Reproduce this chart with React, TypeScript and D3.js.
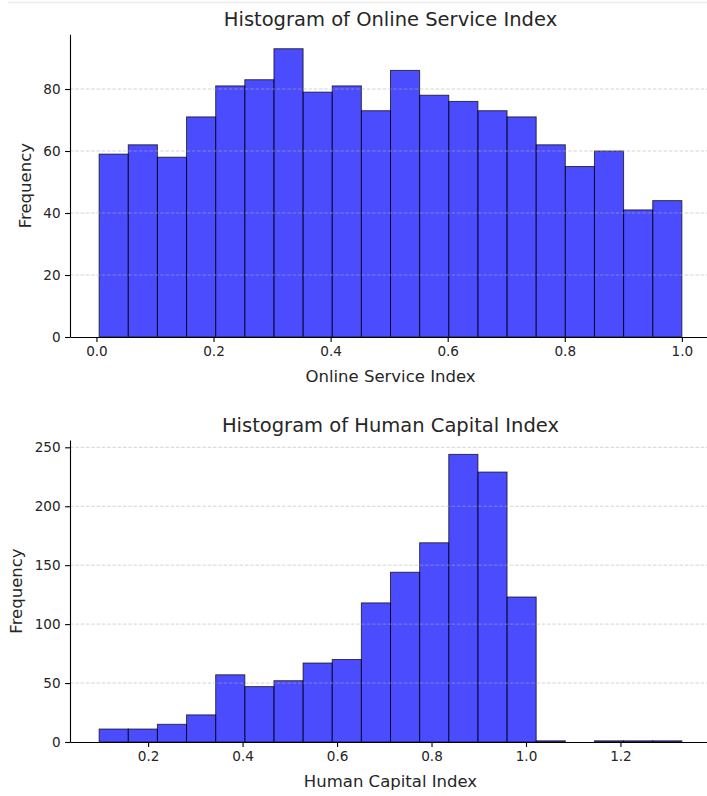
import React, { useRef, useEffect } from 'react';
import * as d3 from 'd3';

// Online Service Index: 20 bins between these edges
const onlineRange = [0.0046, 1.0];
const onlineCounts = [59, 62, 58, 71, 81, 83, 93, 79, 81, 73, 86, 78, 76, 73, 71, 62, 55, 60, 41, 44];
const onlineXTicks = [0.0, 0.2, 0.4, 0.6, 0.8, 1.0];
const onlineYTicks = [0, 20, 40, 60, 80];

// Human Capital Index: 20 bins between these edges
const humanRange = [0.0963, 1.33];
const humanCounts = [11, 11, 15, 23, 57, 47, 52, 67, 70, 118, 144, 169, 244, 229, 123, 1, 0, 1, 1, 1];
const humanXTicks = [0.2, 0.4, 0.6, 0.8, 1.0, 1.2];
const humanYTicks = [0, 50, 100, 150, 200, 250];

const FONT = 'DejaVu Sans, sans-serif';

type Panel = {
  title: string;
  xLabel: string;
  range: number[];
  counts: number[];
  xTicks: number[];
  yTicks: number[];
  top: number;
  bottom: number;
  yLabelX: number;
};

const panels: Panel[] = [
  {
    title: 'Histogram of Online Service Index',
    xLabel: 'Online Service Index',
    range: onlineRange,
    counts: onlineCounts,
    xTicks: onlineXTicks,
    yTicks: onlineYTicks,
    top: 34.3,
    bottom: 337,
    yLabelX: 30.5,
  },
  {
    title: 'Histogram of Human Capital Index',
    xLabel: 'Human Capital Index',
    range: humanRange,
    counts: humanCounts,
    xTicks: humanXTicks,
    yTicks: humanYTicks,
    top: 440,
    bottom: 742,
    yLabelX: 22,
  },
];

const App = () => {
  const ref = useRef<SVGSVGElement>(null);

  useEffect(() => {
    const svg = d3.select(ref.current);
    svg.selectAll('*').remove();

    const left = 70;
    const right = 711;

    // faint cell border at the very top
    svg
      .append('line')
      .attr('x1', 8)
      .attr('x2', 707)
      .attr('y1', 2.5)
      .attr('y2', 2.5)
      .attr('stroke', '#ececec')
      .attr('stroke-width', 1.5);

    panels.forEach((p) => {
      const n = p.counts.length;
      const [lo, hi] = p.range;
      const w = (hi - lo) / n;
      const bins = p.counts.map((c, i) => ({ x0: lo + i * w, x1: lo + (i + 1) * w, c }));
      const pad = (hi - lo) * 0.05;

      const x = d3.scaleLinear().domain([lo - pad, hi + pad]).range([left, right]);
      const y = d3
        .scaleLinear()
        .domain([0, (d3.max(p.counts) as number) * 1.05])
        .range([p.bottom, p.top]);

      const g = svg.append('g');

      // bars
      g.selectAll('rect.bar')
        .data(bins.filter((b) => b.c > 0))
        .join('rect')
        .attr('class', 'bar')
        .attr('x', (d) => x(d.x0))
        .attr('width', (d) => x(d.x1) - x(d.x0))
        .attr('y', (d) => y(d.c))
        .attr('height', (d) => y(0) - y(d.c))
        .attr('fill', '#0000ff')
        .attr('fill-opacity', 0.7)
        .attr('stroke', '#000')
        .attr('stroke-opacity', 0.7)
        .attr('stroke-width', 1);

      // dashed grid on top of bars
      g.selectAll('line.grid')
        .data(p.yTicks.filter((t) => t > 0))
        .join('line')
        .attr('class', 'grid')
        .attr('x1', left)
        .attr('x2', right)
        .attr('y1', (d) => y(d))
        .attr('y2', (d) => y(d))
        .attr('stroke', '#b0b0b0')
        .attr('stroke-opacity', 0.55)
        .attr('stroke-width', 1)
        .attr('stroke-dasharray', '3.5,1.8');

      // x axis
      g.append('g')
        .attr('transform', `translate(0, ${p.bottom})`)
        .call(
          d3
            .axisBottom(x)
            .tickValues(p.xTicks)
            .tickFormat(d3.format('.1f'))
            .tickSize(4.9)
            .tickPadding(4.5)
            .tickSizeOuter(0)
        )
        .call((a) => a.select('.domain').attr('stroke', '#000').attr('stroke-width', 1.1))
        .call((a) => a.selectAll('.tick line').attr('stroke', '#000').attr('stroke-width', 1.1))
        .call((a) =>
          a
            .selectAll('.tick text')
            .attr('fill', '#262626')
            .attr('font-family', FONT)
            .attr('font-size', 13.6)
        );

      // y axis
      g.append('g')
        .attr('transform', `translate(${left}, 0)`)
        .call(d3.axisLeft(y).tickValues(p.yTicks).tickSize(4.9).tickPadding(4.5).tickSizeOuter(0))
        .call((a) => a.select('.domain').attr('stroke', '#000').attr('stroke-width', 1.1))
        .call((a) => a.selectAll('.tick line').attr('stroke', '#000').attr('stroke-width', 1.1))
        .call((a) =>
          a
            .selectAll('.tick text')
            .attr('fill', '#262626')
            .attr('font-family', FONT)
            .attr('font-size', 13.6)
        );

      // title
      g.append('text')
        .attr('x', (left + right) / 2)
        .attr('y', p.top - 8.5)
        .attr('text-anchor', 'middle')
        .attr('font-family', FONT)
        .attr('font-size', 19.5)
        .attr('fill', '#262626')
        .text(p.title);

      // x label
      g.append('text')
        .attr('x', (left + right) / 2)
        .attr('y', p.bottom + 44.5)
        .attr('text-anchor', 'middle')
        .attr('font-family', FONT)
        .attr('font-size', 16.5)
        .attr('fill', '#262626')
        .text(p.xLabel);

      // y label
      g.append('text')
        .attr('transform', `translate(${p.yLabelX}, ${(p.top + p.bottom) / 2}) rotate(-90)`)
        .attr('text-anchor', 'middle')
        .attr('font-family', FONT)
        .attr('font-size', 16.5)
        .attr('fill', '#262626')
        .text('Frequency');
    });
  }, []);

  return (
    <svg
      ref={ref}
      width={707}
      height={796}
      style={{ position: 'absolute', left: 0, top: 0, background: '#fff' }}
    />
  );
};

export default App;
